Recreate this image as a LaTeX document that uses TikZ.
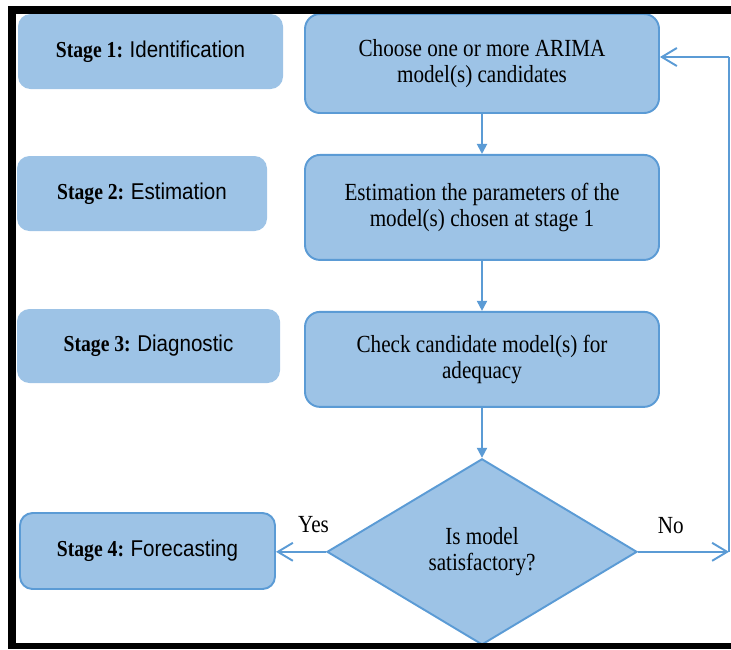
\documentclass[tikz,border=0pt]{standalone}
\usepackage{fontspec}
\setmainfont{Liberation Serif}[FakeStretch=0.86]
\setsansfont{Liberation Sans}[FakeStretch=0.9]
\usetikzlibrary{arrows.meta, positioning, shapes.geometric}
\definecolor{my_fill}{RGB}{157, 195, 230}
\definecolor{my_blue}{RGB}{91, 155, 213}
\tikzset {
  stage/.style = {fill=my_fill, rounded corners=0.25cm, rectangle, text centered, font=\fontsize{13}{15}\selectfont},
  box/.style = {draw=my_blue, line width=1.1pt, fill=my_fill, rounded corners=0.3cm, rectangle, minimum width=7.08cm, align=center, font=\fontsize{14}{14.4}\selectfont},
  decision/.style = {draw=my_blue, line width=1.1pt, fill=my_fill, diamond, minimum width=6.2cm, minimum height=3.72cm, inner sep=0pt, align=center, font=\fontsize{14}{14.8}\selectfont},
  line/.style = {-{Triangle[width=0.2cm, length=0.2cm]}, line width=1.1pt, color=my_blue},
  back/.style = {-{Straight Barb[width=0.36cm, length=0.3cm]}, line width=1.1pt, color=my_blue},
  tag/.style = {font=\fontsize{14}{15}\selectfont, text=black}
}

\begin{document}
\begin{tikzpicture}
    \useasboundingbox (0,0) rectangle (14.62,-12.98);

    % stages on the left
    \node[stage, minimum width=5.3cm, minimum height=1.5cm] (stage1) at (3.01,-1.03) {\textbf{Stage 1:} \textsf{Identification}};
    \node[stage, minimum width=5.0cm, minimum height=1.5cm] (stage2) at (2.84,-3.87) {\textbf{Stage 2:} \textsf{Estimation}};
    \node[stage, minimum width=5.26cm, minimum height=1.48cm] (stage3) at (2.97,-6.92) {\textbf{Stage 3:} \textsf{Diagnostic}};
    \node[stage, draw=my_blue, line width=1.1pt, minimum width=5.1cm, minimum height=1.52cm] (stage4) at (2.95,-11.02) {\textbf{Stage 4:} \textsf{Forecasting}};

    % flow on the right
    \node[box, minimum height=1.98cm] (choose) at (9.64,-1.27) {Choose one or more ARIMA\\model(s) candidates};
    \node[box, minimum height=2.1cm, below=0.8cm of choose] (estim) {Estimation the parameters of the\\model(s) chosen at stage 1};
    \node[box, minimum height=1.9cm, below=1.0cm of estim] (check) {Check candidate model(s) for\\adequacy};
    \node[decision, below=1.0cm of check] (satis) {Is model\\satisfactory?};

    \coordinate (fbt) at (14.58,-1.14);
    \coordinate (fbr) at (satis.east -| fbt);

    \draw[line] (choose) -- (estim);
    \draw[line] (estim) -- (check);
    \draw[line] (check) -- (satis);
    \draw[back] (satis.west) -- node[tag, above=0.25cm, pos=0.25] {Yes} (satis.west -| stage4.east);
    \draw[back] (satis.east) -- node[tag, above=0.22cm, pos=0.36] {No} (fbr);
    \draw[line width=1.1pt, my_blue] (fbr) -- (fbt);
    \draw[back] (fbt) -- (fbt -| choose.east);

    % black frame
    \fill[black] (0.16,-0.12) rectangle (0.32,-12.98);
    \fill[black] (0.16,-0.12) rectangle (14.62,-0.28);
    \fill[black] (0.16,-12.86) rectangle (14.62,-12.98);

\end{tikzpicture}
\end{document}
